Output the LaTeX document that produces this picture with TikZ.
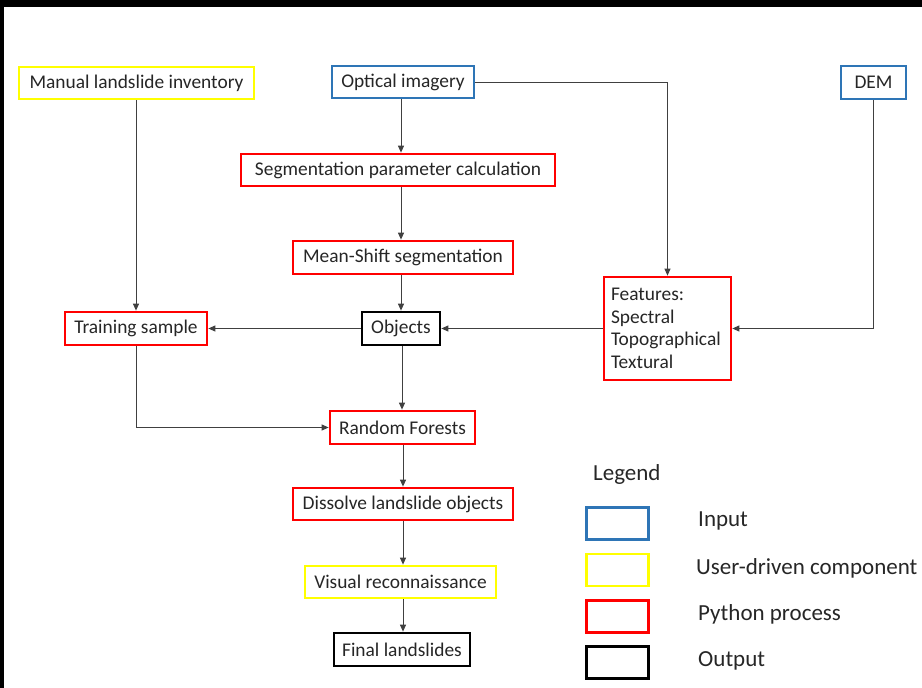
\documentclass[tikz,border=0pt]{standalone}
\usepackage{fontspec}
\setmainfont{Carlito}
\usetikzlibrary{arrows.meta}
\definecolor{inblue}{RGB}{46,117,182}
\definecolor{useryellow}{RGB}{255,255,0}
\definecolor{pyred}{RGB}{255,0,0}
\tikzset{
  box/.style={draw, line width=2.7pt, rectangle, inner sep=0pt, fill=white,
    font=\fontsize{19.4}{22}\selectfont, text=black!85},
  inputbox/.style={box, draw=inblue},
  userbox/.style={box, draw=useryellow},
  pybox/.style={box, draw=pyred},
  outbox/.style={box, draw=black},
  link/.style={draw=black!75, line width=1pt, -{Triangle[length=7pt,width=6pt]}},
  lbl/.style={anchor=west, inner sep=0pt, font=\fontsize{23}{26}\selectfont, text=black!85},
  keybox/.style={draw, line width=2.7pt, minimum width=62pt, minimum height=32pt, inner sep=0pt}
}
\begin{document}
\begin{tikzpicture}[x=1pt, y=-1pt]
  \useasboundingbox (0,0) rectangle (922,688);
  % frame strips
  \fill[black] (0,0) rectangle (922,7);
  \fill[black] (0,0) rectangle (4,688);

  % inputs
  \node[userbox, minimum width=235pt, minimum height=32pt] (inv) at (136.5,83) {Manual landslide inventory};
  \node[inputbox, minimum width=142pt, minimum height=32pt] (opt) at (403,82) {Optical imagery};
  \node[inputbox, minimum width=65pt, minimum height=33pt] (dem) at (873.5,82.5) {DEM};

  % processing chain
  \node[pybox, minimum width=314pt, minimum height=32pt] (seg) at (398,170) {Segmentation parameter calculation};
  \node[pybox, minimum width=220pt, minimum height=33pt] (ms) at (403,257.5) {Mean-Shift segmentation};
  \node[outbox, minimum width=78pt, minimum height=33pt] (obj) at (401,328.5) {Objects};
  \node[pybox, minimum width=142pt, minimum height=33pt] (train) at (136,328.5) {Training sample};
  \node[pybox, minimum width=127pt, minimum height=103pt, align=left, text width=113pt,
        font=\fontsize{19.4}{22.5}\selectfont] (feat) at (667.5,328.5)
        {Features:\\Spectral\\Topographical\\Textural};
  \node[pybox, minimum width=145pt, minimum height=33pt] (rf) at (402.5,427.5) {Random Forests};
  \node[pybox, minimum width=220pt, minimum height=32pt] (dis) at (403,504) {Dissolve landslide objects};
  \node[userbox, minimum width=191pt, minimum height=32pt] (vis) at (400.5,582) {Visual reconnaissance};
  \node[outbox, minimum width=136pt, minimum height=33pt] (fin) at (402,649.5) {Final landslides};

  % connectors
  \draw[link] (opt.south -| 401,0) -- (seg.north -| 401,0);
  \draw[link] (seg.south -| 401,0) -- (ms.north -| 401,0);
  \draw[link] (ms.south -| 401,0) -- (obj.north -| 401,0);
  \draw[link] (opt.east) -| (feat.north);
  \draw[link] (dem.south) |- (feat.east);
  \draw[link] (feat.west) -- (obj.east);
  \draw[link] (obj.west) -- (train.east);
  \draw[link] (inv.south -| train.north) -- (train.north);
  \draw[link] (obj.south -| 402,0) -- (rf.north -| 402,0);
  \draw[link] (train.south) |- (rf.west);
  \draw[link] (rf.south -| 403,0) -- (dis.north -| 403,0);
  \draw[link] (dis.south -| 403,0) -- (vis.north -| 403,0);
  \draw[link] (vis.south -| 403,0) -- (fin.north -| 403,0);

  % legend
  \node[lbl] (legtitle) at (593,474) {Legend};
  \node[keybox, draw=inblue] (kin) at (617.5,523.5) {};
  \node[keybox, draw=useryellow] (kuser) at (617.5,570) {};
  \node[keybox, draw=pyred] (kpy) at (617.5,616.5) {};
  \node[keybox, draw=black] (kout) at (617.5,662.5) {};
  \node[lbl] (lin) at (698,521) {Input};
  \node[lbl] (luser) at (696,568) {User-driven component};
  \node[lbl] (lpy) at (698,614) {Python process};
  \node[lbl] (lout) at (698,661) {Output};
\end{tikzpicture}
\end{document}
